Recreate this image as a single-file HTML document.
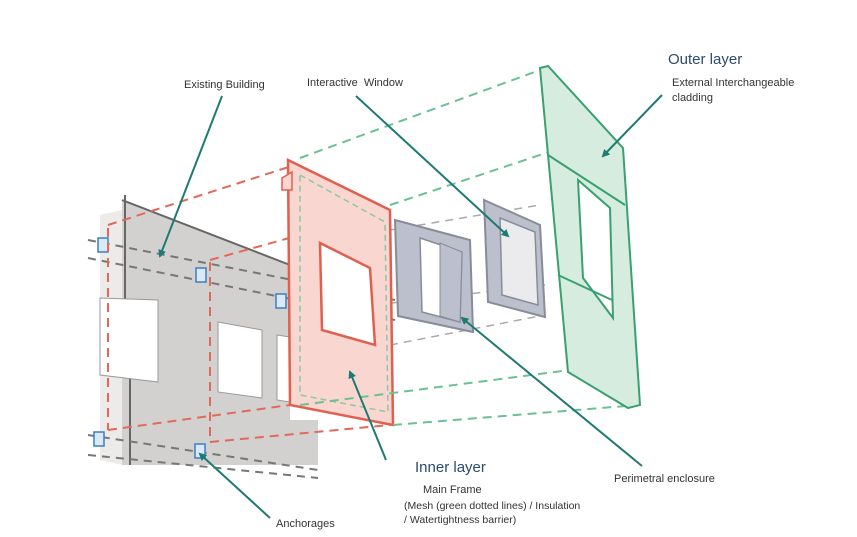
<!DOCTYPE html>
<html><head><meta charset="utf-8"><style>
html,body{margin:0;padding:0;background:#fff;}
svg{display:block;}
text{font-family:"Liberation Sans",sans-serif;fill:#333;}
</style></head><body>
<svg width="857" height="537" viewBox="0 0 857 537" xmlns="http://www.w3.org/2000/svg">
<defs>
<marker id="ah" markerWidth="8" markerHeight="8" refX="6" refY="4" orient="auto" markerUnits="userSpaceOnUse"><path d="M0,0 L8,4 L0,8 z" fill="#1e7a72"/></marker>
</defs>
<!-- existing building -->
<polygon points="122,200 290,265 290,420 318,420 318,465 122,465" fill="#d3d1d0"/>
<polygon points="100,215 122,210 122,465 100,460" fill="#ecebea"/>
<polyline points="122,200 290,265" fill="none" stroke="#666" stroke-width="2"/>
<line x1="125" y1="195" x2="125" y2="300" stroke="#666" stroke-width="2"/>
<line x1="130" y1="375" x2="130" y2="465" stroke="#666" stroke-width="2"/>
<polygon points="100,298 158,300 158,382 100,375" fill="#fff" stroke="#999"/>
<polygon points="218,322 262,330 262,398 218,392" fill="#fff" stroke="#999"/>
<polygon points="277,335 290,337 290,402 277,400" fill="#fff" stroke="#999"/>
<!-- grey dashed lines -->
<g stroke="#777" stroke-width="2" stroke-dasharray="8,6" fill="none">
<line x1="88" y1="240" x2="395" y2="300"/>
<line x1="88" y1="258" x2="395" y2="320"/>
<line x1="88" y1="435" x2="318" y2="470"/>
<line x1="88" y1="455" x2="318" y2="478"/>
</g>
<g stroke="#aaa" stroke-width="1.5" stroke-dasharray="8,6" fill="none">
<line x1="390" y1="230" x2="540" y2="205"/>
<line x1="375" y1="305" x2="545" y2="285"/>
<line x1="390" y1="345" x2="545" y2="315"/>
</g>
<!-- anchors -->
<g fill="#dbe8f5" stroke="#3b7fc4" stroke-width="1.5">
<rect x="98" y="238" width="10" height="14"/><rect x="196" y="268" width="10" height="14"/>
<rect x="276" y="294" width="10" height="14"/><rect x="94" y="432" width="10" height="14"/>
<rect x="195" y="444" width="10" height="14"/>
</g>
<!-- red dashed -->
<g stroke="#e06a58" stroke-width="2" stroke-dasharray="9,6" fill="none">
<line x1="108" y1="225" x2="295" y2="165"/>
<line x1="210" y1="260" x2="390" y2="210"/>
<line x1="108" y1="430" x2="290" y2="405"/>
<line x1="210" y1="442" x2="390" y2="425"/>
<line x1="108" y1="228" x2="108" y2="430"/>
<line x1="210" y1="262" x2="210" y2="442"/>
</g>
<!-- red panel -->
<polygon points="288,160 390,210 393,425 290,405" fill="#f9d6d0" stroke="#e0604f" stroke-width="2.5"/>
<polygon points="282,178 292,172 292,190 282,190" fill="#f9d6d0" stroke="#e0604f" stroke-width="1.5"/>
<polygon points="320,243 370,268 375,345 322,330" fill="#fff" stroke="#e0604f" stroke-width="2.5"/>
<polygon points="300,175 385,222 388,412 300,395" fill="none" stroke="#8cc7a7" stroke-width="1.5" stroke-dasharray="6,4"/>
<!-- green dashed -->
<g stroke="#6cc096" stroke-width="2" stroke-dasharray="9,6" fill="none">
<line x1="300" y1="158" x2="540" y2="70"/>
<line x1="390" y1="205" x2="555" y2="150"/>
<line x1="300" y1="405" x2="570" y2="370"/>
<line x1="393" y1="425" x2="638" y2="405"/>
</g>
<!-- perimetral enclosure -->
<polygon points="395,220 470,240 473,332 398,316" fill="#bcc0cc" stroke="#888c98" stroke-width="2"/>
<polygon points="420,238 462,252 460,322 422,312" fill="#fff" stroke="#888c98" stroke-width="1.5"/>
<polygon points="440,243 462,252 460,322 440,316" fill="#bcc0cc" stroke="#888c98" stroke-width="1"/>
<!-- window -->
<polygon points="484,200 540,225 545,317 488,302" fill="#bcc0cc" stroke="#888c98" stroke-width="2"/>
<polygon points="500,218 535,232 538,305 502,295" fill="#ebebee" stroke="#888c98" stroke-width="1.5"/>
<!-- green panel -->
<polygon points="540,68 548,66 623,148 640,405 628,408 568,372" fill="#d5ecdf" stroke="#3aa070" stroke-width="2"/>
<polygon points="578,180 610,208 613,318 583,278" fill="#fff" stroke="#3aa070" stroke-width="2"/>
<line x1="548" y1="155" x2="625" y2="205" stroke="#3aa070" stroke-width="2"/>
<line x1="558" y1="275" x2="612" y2="300" stroke="#3aa070" stroke-width="2"/>
<!-- arrows -->
<g stroke="#1e7a72" stroke-width="2" fill="none" marker-end="url(#ah)">
<line x1="222" y1="96" x2="160" y2="256"/>
<line x1="356" y1="96" x2="508" y2="236"/>
<line x1="662" y1="95" x2="603" y2="156"/>
<line x1="386" y1="460" x2="350" y2="372"/>
<line x1="642" y1="466" x2="462" y2="318"/>
<line x1="270" y1="518" x2="200" y2="454"/>
</g>
<!-- labels -->
<text x="668" y="64" font-size="15" style="fill:#2c4a6e">Outer layer</text>
<text x="672" y="86" font-size="11">External Interchangeable</text>
<text x="672" y="101" font-size="11">cladding</text>
<text x="184" y="88" font-size="11">Existing Building</text>
<text x="307" y="86" font-size="11">Interactive&#160; Window</text>
<text x="415" y="472" font-size="15" style="fill:#2c4a6e">Inner layer</text>
<text x="423" y="493" font-size="11">Main Frame</text>
<text x="404" y="509" font-size="10.5">(Mesh (green dotted lines) / Insulation</text>
<text x="404" y="523" font-size="10.5">/ Watertightness barrier)</text>
<text x="614" y="482" font-size="11">Perimetral enclosure</text>
<text x="276" y="527" font-size="11">Anchorages</text>
</svg>
</body></html>
